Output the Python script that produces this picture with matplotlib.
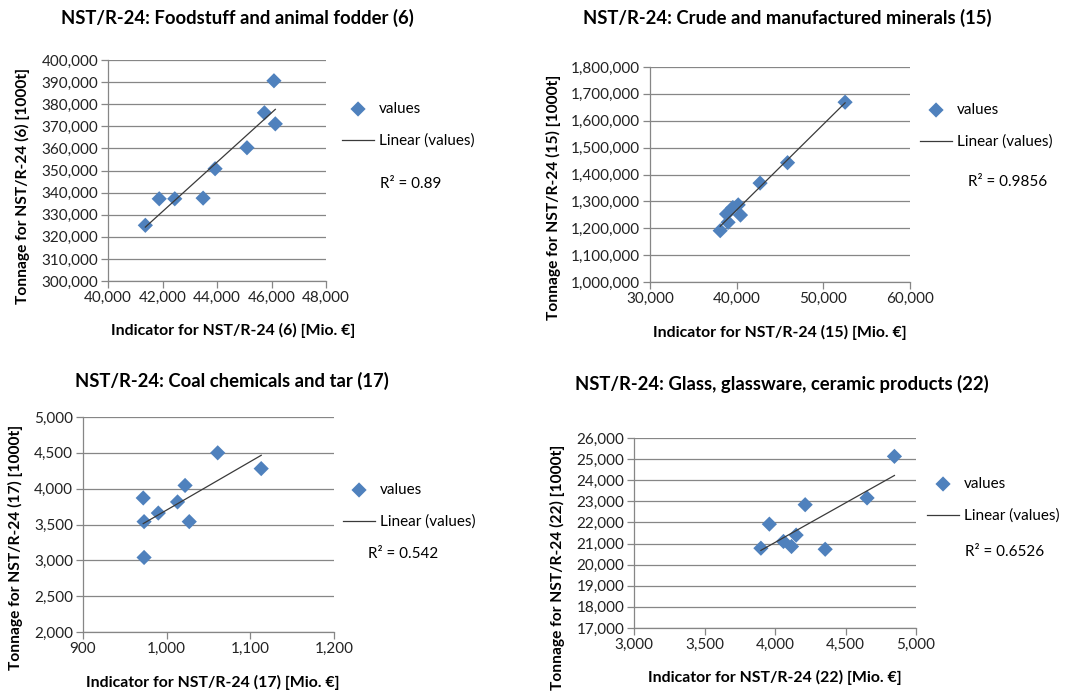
import numpy as np
import matplotlib
matplotlib.use("Agg")
import matplotlib.pyplot as plt
from matplotlib.ticker import FuncFormatter

plt.rcParams['font.family'] = ['Lato', 'DejaVu Sans']

W, H = 1089, 693

# --- data ---
titles = ["NST/R-24: Foodstuff and animal fodder (6)",
          "NST/R-24: Crude and manufactured minerals (15)",
          "NST/R-24: Coal chemicals and tar (17)",
          "NST/R-24: Glass, glassware, ceramic products (22)"]
codes = ["6", "15", "17", "22"]
r2_labels = ["0.89", "0.9856", "0.542", "0.6526"]

food_x = [41370, 41880, 42450, 43490, 43930, 45100, 45740, 46090, 46140]
food_y = [325200, 337200, 337200, 337500, 350800, 360300, 376100, 390600, 371100]

minerals_x = [38100, 38830, 39010, 39560, 40180, 40440, 42700, 45870, 52510]
minerals_y = [1191000, 1253000, 1222000, 1277000, 1287000, 1249000, 1368000, 1444000, 1669000]

coal_x = [972, 973, 973, 990, 1013, 1022, 1027, 1061, 1113]
coal_y = [3870, 3540, 3040, 3660, 3815, 4045, 3540, 4500, 4280]

glass_x = [3900, 3960, 4060, 4117, 4150, 4214, 4356, 4653, 4847]
glass_y = [20780, 21920, 21100, 20860, 21400, 22840, 20730, 23160, 25130]

xs = [food_x, minerals_x, coal_x, glass_x]
ys = [food_y, minerals_y, coal_y, glass_y]

x_ticks = [np.arange(40000, 48001, 2000), np.arange(30000, 60001, 10000),
           np.arange(900, 1201, 100), np.arange(3000, 5001, 500)]
y_ticks = [np.arange(300000, 400001, 10000), np.arange(1000000, 1800001, 100000),
           np.arange(2000, 5001, 500), np.arange(17000, 26001, 1000)]

# --- layout in pixels (left, top, right, bottom) ---
plot_boxes = [(108, 60, 326, 281), (650, 67, 910, 282),
              (83, 417, 334, 632), (634, 438, 916, 628)]
title_pos = [(237, 18), (787, 18), (232, 381), (782, 384)]
xlabel_pos = [(233, 330), (780, 332), (213, 682), (775, 677)]
ylabel_pos = [(22, 186), (553, 197), (15, 547), (557, 567)]
legend_pos = [(342, 111), (920, 112), (343, 492), (927, 486)]
r2_pos = [(380, 184), (968, 182), (368, 554), (965, 552)]

blue = '#4F81BD'
grid_c = '#868686'
fs = 11

fig = plt.figure(figsize=(W / 100, H / 100), dpi=100)
fmt = FuncFormatter(lambda v, p: f"{v:,.0f}")


def fx(px):
    return px / W


def fy(py):
    return 1 - py / H


for i in range(4):
    l, t, r, b = plot_boxes[i]
    ax = fig.add_axes([fx(l), fy(b), (r - l) / W, (b - t) / H])
    x = np.array(xs[i], dtype=float)
    y = np.array(ys[i], dtype=float)

    ax.scatter(x, y, marker='D', s=60, color=blue, edgecolors='none', zorder=3, label='values')
    k, c = np.polyfit(x, y, 1)
    xl = np.array([x.min(), x.max()])
    ax.plot(xl, k * xl + c, color='#3a3a3a', lw=0.9, zorder=4, label='Linear (values)')

    ax.set_xlim(x_ticks[i][0], x_ticks[i][-1])
    ax.set_ylim(y_ticks[i][0], y_ticks[i][-1])
    ax.set_xticks(x_ticks[i])
    ax.set_yticks(y_ticks[i])
    ax.xaxis.set_major_formatter(fmt)
    ax.yaxis.set_major_formatter(fmt)
    ax.tick_params(axis='both', direction='out', length=5, width=0.9, color=grid_c,
                   labelsize=fs, labelcolor='#222222', pad=2)
    ax.grid(axis='y', color=grid_c, lw=0.9)
    ax.set_axisbelow(True)
    for s in ['top', 'right']:
        ax.spines[s].set_visible(False)
    for s in ['left', 'bottom']:
        ax.spines[s].set_color(grid_c)
        ax.spines[s].set_linewidth(0.9)

    lx, ly = legend_pos[i]
    ax.legend(loc='upper left', bbox_to_anchor=(fx(lx), fy(ly - 9)),
              bbox_transform=fig.transFigure, frameon=False, fontsize=fs,
              borderpad=0, borderaxespad=0, handlelength=2.1, handletextpad=0.3,
              labelspacing=1.15, markerscale=1.0)

    tx, ty = title_pos[i]
    fig.text(fx(tx), fy(ty), titles[i], ha='center', va='center',
             fontsize=13.3, fontweight='bold')
    tx, ty = xlabel_pos[i]
    fig.text(fx(tx), fy(ty), f"Indicator for NST/R-24 ({codes[i]}) [Mio. €]",
             ha='center', va='center', fontsize=11.4, fontweight='bold')
    tx, ty = ylabel_pos[i]
    fig.text(fx(tx), fy(ty), f"Tonnage for NST/R-24 ({codes[i]}) [1000t]",
             ha='center', va='center', rotation=90, fontsize=11.2, fontweight='bold')
    tx, ty = r2_pos[i]
    fig.text(fx(tx), fy(ty), f"R² = {r2_labels[i]}", ha='left', va='center', fontsize=fs)

fig.savefig('out.png', dpi=100, facecolor='white')
